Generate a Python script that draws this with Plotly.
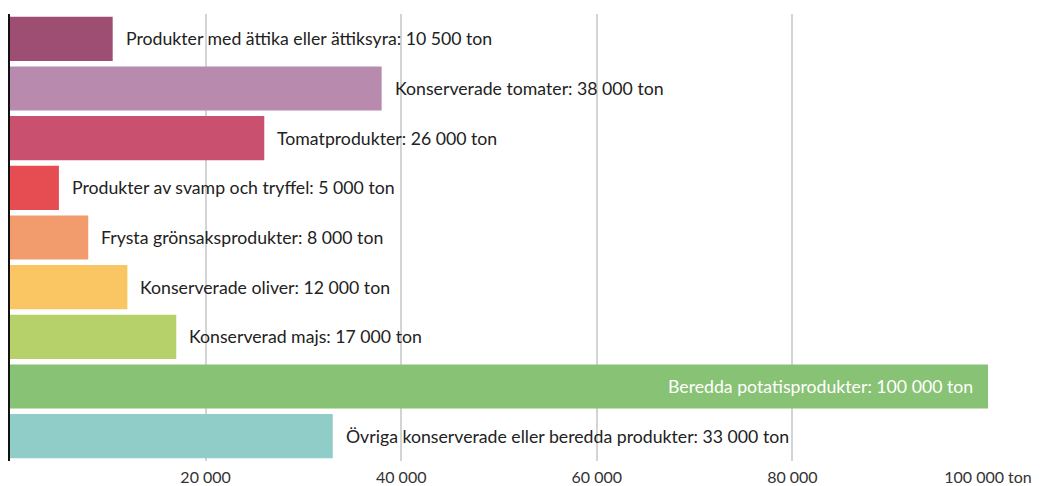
import plotly.graph_objects as go

categories = [
    "Produkter med ättika eller ättiksyra",
    "Konserverade tomater",
    "Tomatprodukter",
    "Produkter av svamp och tryffel",
    "Frysta grönsaksprodukter",
    "Konserverade oliver",
    "Konserverad majs",
    "Beredda potatisprodukter",
    "Övriga konserverade eller beredda produkter",
]
values = [10500, 38000, 26000, 5000, 8000, 12000, 17000, 100000, 33000]
value_labels = ["10 500", "38 000", "26 000", "5 000", "8 000", "12 000", "17 000", "100 000", "33 000"]
colors = ["#9e4d73", "#b88aad", "#c9506f", "#e64d52", "#f29b6c",
          "#fac563", "#b6d06a", "#88c274", "#90cdc9"]
tick_vals = [20000, 40000, 60000, 80000, 100000]
tick_text = ["20 000", "40 000", "60 000", "80 000", "100 000 ton"]

FONT = "Lato, 'Open Sans', sans-serif"

fig = go.Figure(go.Bar(
    x=values, y=categories, orientation="h",
    marker=dict(color=colors, line=dict(width=0)),
    hoverinfo="skip",
))

for cat, v, lab in zip(categories, values, value_labels):
    inside = v >= 90000
    fig.add_annotation(
        x=v, y=cat, xref="x", yref="y",
        text=f"{cat}: {lab} ton",
        showarrow=False,
        xanchor="right" if inside else "left",
        xshift=-13 if inside else 11,
        font=dict(family=FONT, size=17.7, color="#ffffff" if inside else "#222222"),
    )

fig.update_layout(
    width=1054, height=486,
    margin=dict(l=2, r=74, t=6, b=33, autoexpand=False),
    plot_bgcolor="white", paper_bgcolor="white",
    bargap=0.11,
    showlegend=False,
    font=dict(family=FONT),
)
fig.update_xaxes(
    range=[0, 100000], tickvals=tick_vals, ticktext=tick_text,
    showgrid=True, gridcolor="#d4d4d4", gridwidth=1.5,
    zeroline=False, showline=False, automargin=False,
    ticks="outside", ticklen=2, tickcolor="rgba(0,0,0,0)",
    tickfont=dict(family=FONT, size=16, color="#333333"),
)
fig.update_yaxes(
    autorange="reversed", showticklabels=False, automargin=False,
    showline=True, linecolor="#111111", linewidth=2,
    ticks="outside", ticklen=2, tickcolor="#111111", tickson="boundaries",
    showgrid=False,
)

fig.write_html("out.html")
